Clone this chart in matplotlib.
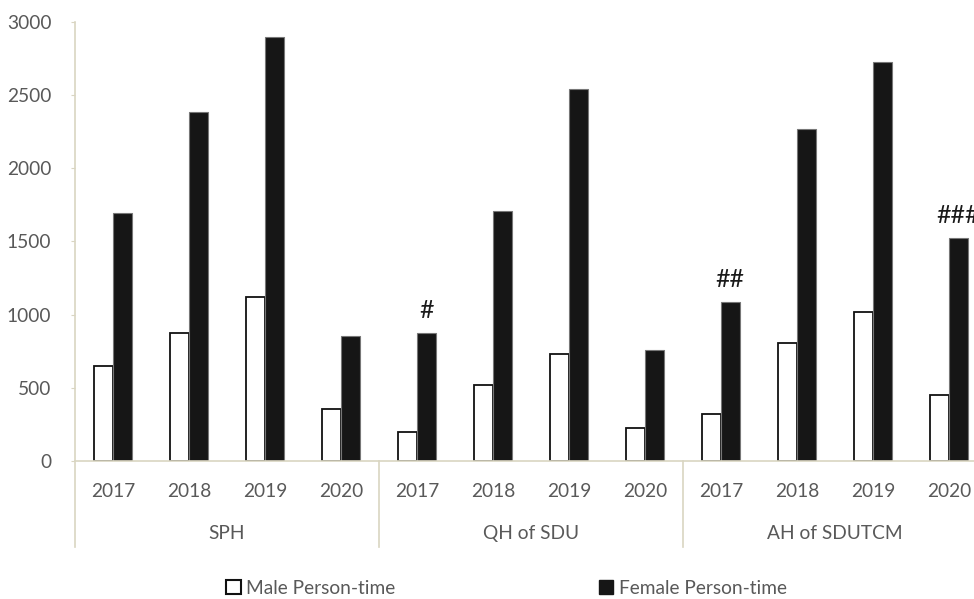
import matplotlib
matplotlib.use('Agg')
import matplotlib.pyplot as plt
from matplotlib.patches import Rectangle
import numpy as np

plt.rcParams['font.family'] = ['Lato', 'DejaVu Sans']

# data
hospitals = ["SPH", "QH of SDU", "AH of SDUTCM"]
years = ["2017", "2018", "2019", "2020"]
male = [646, 877, 1123, 357,
        196, 521, 729, 225,
        321, 804, 1016, 451]
female = [1692, 2382, 2895, 852,
          875, 1708, 2544, 756,
          1084, 2269, 2727, 1524]
# significance marks above the female bars (index -> label)
marks = {4: "#", 8: "##", 11: "###"}

grey = '#595959'
axis_col = '#d9d5c1'
bar_w = 0.245
fs = 13.8

fig = plt.figure(figsize=(9.74, 5.99), dpi=100)
ax = fig.add_axes([0.077, 0.2304, 0.9363, 0.7329])

x = np.arange(len(male))
ax.bar(x - bar_w / 2, male, width=bar_w, color='white', edgecolor='#111111',
       linewidth=1.3, zorder=2)
ax.bar(x + bar_w / 2, female, width=bar_w, color='#161616', edgecolor='#777777',
       linewidth=0.8, zorder=2)

for i, s in marks.items():
    ax.annotate(s, xy=(x[i] + bar_w / 2, female[i]), xytext=(0, 11),
                textcoords='offset points', ha='center', va='baseline',
                fontsize=18, color='#1a1a1a', annotation_clip=False)

ax.set_xlim(-0.5, len(male) - 0.5)
ax.set_ylim(0, 3000)
ax.set_yticks(np.arange(0, 3001, 500))
ax.set_xticks(x, years * len(hospitals))

for side in ['top', 'right']:
    ax.spines[side].set_visible(False)
for side in ['left', 'bottom']:
    ax.spines[side].set_color(axis_col)
    ax.spines[side].set_linewidth(1.2)
    ax.spines[side].set_zorder(3)

ax.tick_params(axis='y', colors=axis_col, labelcolor=grey, labelsize=fs,
               length=3, direction='out', pad=14)
ax.tick_params(axis='x', length=0, labelcolor=grey, labelsize=fs, pad=16)

# second level of the category axis: hospital names and separators
trans = ax.get_xaxis_transform()
for k, name in enumerate(hospitals):
    ax.annotate(name, xy=(k * 4 + 1.5, 0), xycoords=trans,
                xytext=(0, -52), textcoords='offset points',
                ha='center', va='center', fontsize=fs, color=grey,
                annotation_clip=False)
for b in np.arange(len(hospitals) + 1) * 4 - 0.5:
    ax.plot([b, b], [0, -0.196], transform=trans, color=axis_col,
            linewidth=1.2, clip_on=False)

handles = [Rectangle((0, 0), 1, 1, facecolor='white', edgecolor='#111111', linewidth=1.5),
           Rectangle((0, 0), 1, 1, facecolor='#161616', edgecolor='#161616')]
leg = fig.legend(handles, ["Male Person-time", "Female Person-time"],
                 loc='center', bbox_to_anchor=(0.52, 0.018), ncol=2, frameon=False,
                 fontsize=fs, handlelength=0.75, handleheight=0.75,
                 handletextpad=0.3, columnspacing=10.6)
for t in leg.get_texts():
    t.set_color(grey)

fig.savefig('out.png', dpi=100)
